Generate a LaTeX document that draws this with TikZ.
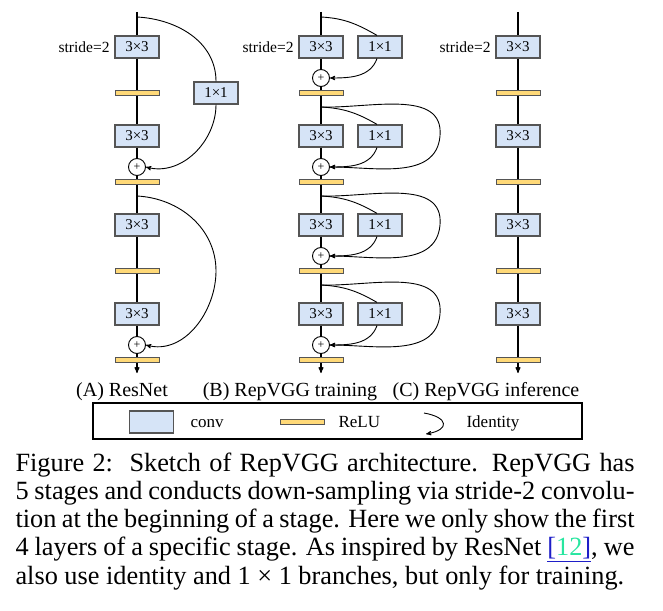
\documentclass[tikz,border=0pt]{standalone}
\usepackage{fontspec}
\setmainfont{Liberation Serif}
\usepackage{xcolor}
\usepackage{tikz}
\usetikzlibrary{arrows,shapes,positioning}
\definecolor{convfill}{RGB}{214,228,247}
\definecolor{convline}{RGB}{85,85,85}
\definecolor{relufill}{RGB}{255,217,120}
\definecolor{citegreen}{RGB}{40,230,160}
\definecolor{linkblue}{RGB}{30,30,200}
\tikzset{
  every picture/.style = {
    line width = 1.1pt,
    >=stealth',
    x = 1pt,
    y = -1pt,
    node distance = 46pt and 59pt,
    on grid,
  }
  ,
  conv/.style = {
    rectangle,
    draw = convline,
    fill = convfill,
    line width = 1.2pt,
    font = \fontsize{15}{15}\selectfont,
    inner sep = 0pt,
    minimum width = 44pt,
    minimum height = 22pt
  }
  , % relu bars
  relu/.style = {
    rectangle,
    draw = convline,
    fill = relufill,
    line width = 1pt,
    inner sep = 0pt,
    minimum width = 44pt,
    minimum height = 5pt
  }
  , % sums
  plus/.style = {
    circle,
    draw,
    fill = white,
    line width = 0.9pt,
    inner sep = 0pt,
    minimum size = 17pt,
    font = \fontsize{12}{12}\selectfont
  }
  , % branches
  branch/.style = {
    line width = 0.9pt
  }
  , % labels of the first convs
  label-stride/.style = {
    font = \fontsize{15.5}{15.5}\selectfont,
    label distance = 1pt
  }
  , % titles of the columns
  label-col/.style = {
    font = \fontsize{20}{20}\selectfont,
    anchor = base
  }
  , % texts of the legend
  label-key/.style = {
    font = \fontsize{17}{17}\selectfont,
    anchor = base west,
    inner sep = 0pt
  }
}
\begin{document}
\begin{tikzpicture}
    \useasboundingbox (0,0) rectangle (663,610);
    % (A) ResNet
    \coordinate (A-top) at (137,12);
    \node [conv, label = {[label-stride]left:stride=2}] (A-c1) at (137,47) {3×3};
    \node [relu, below = of A-c1] (A-r1) {};
    \node [conv, below = 43pt of A-r1] (A-c2) {3×3};
    \node [plus, below = 31pt of A-c2] (A-p1) {+};
    \node [relu, below = of A-c2] (A-r2) {};
    \node [conv, below = 43pt of A-r2] (A-c3) {3×3};
    \node [relu, below = of A-c3] (A-r3) {};
    \node [conv, below = 43pt of A-r3] (A-c4) {3×3};
    \node [plus, below = 31pt of A-c4] (A-p2) {+};
    \node [relu, below = of A-c4] (A-r4) {};
    \coordinate [below = 13pt of A-r4] (A-end);
    \draw (A-top) -- (A-c1) -- (A-r1) -- (A-c2) -- (A-p1) -- (A-r2) -- (A-c3)
        -- (A-r3) -- (A-c4) -- (A-p2) -- (A-r4);
    \draw [->] (A-r4) -- (A-end);
    \node [conv, right = 79pt of A-r1] (A-k1) {1×1};
    \coordinate [above = 30pt of A-c1] (A-s1);
    \coordinate [below = 14pt of A-r2] (A-s2);
    \coordinate [right = 79pt of A-r3] (A-m2);
    \draw [branch] (A-s1) to [out=-3, in=90] (A-k1.north);
    \draw [branch, ->] (A-k1.south) to [out=-90, in=-15] (A-p1.east);
    \draw [branch, ->] (A-s2) to [out=-3, in=90] (A-m2) to [out=-90, in=-15] (A-p2.east);

    % (B) RepVGG training
    \coordinate (B-top) at (321,12);
    \node [conv, label = {[label-stride]left:stride=2}] (B-c1) at (321,47) {3×3};
    \node [plus, below = 31pt of B-c1] (B-p1) {+};
    \node [relu, below = of B-c1] (B-r1) {};
    \node [conv, below = 43pt of B-r1] (B-c2) {3×3};
    \node [plus, below = 31pt of B-c2] (B-p2) {+};
    \node [relu, below = of B-c2] (B-r2) {};
    \node [conv, below = 43pt of B-r2] (B-c3) {3×3};
    \node [plus, below = 31pt of B-c3] (B-p3) {+};
    \node [relu, below = of B-c3] (B-r3) {};
    \node [conv, below = 43pt of B-r3] (B-c4) {3×3};
    \node [plus, below = 31pt of B-c4] (B-p4) {+};
    \node [relu, below = of B-c4] (B-r4) {};
    \coordinate [below = 13pt of B-r4] (B-end);
    \draw (B-top) -- (B-c1) -- (B-p1) -- (B-r1) -- (B-c2) -- (B-p2) -- (B-r2)
        -- (B-c3) -- (B-p3) -- (B-r3) -- (B-c4) -- (B-p4) -- (B-r4);
    \draw [->] (B-r4) -- (B-end);
    \node [conv, right = of B-c1] (B-k1) {1×1};
    \node [conv, right = of B-c2] (B-k2) {1×1};
    \node [conv, right = of B-c3] (B-k3) {1×1};
    \node [conv, right = of B-c4] (B-k4) {1×1};
    \coordinate [above = 30pt of B-c1] (B-s1);
    \coordinate [below = 14pt of B-r1] (B-s2);
    \coordinate [below = 14pt of B-r2] (B-s3);
    \coordinate [below = 14pt of B-r3] (B-s4);
    \coordinate [right = 119pt of B-c2] (B-m2);
    \coordinate [right = 119pt of B-c3] (B-m3);
    \coordinate [right = 119pt of B-c4] (B-m4);
    \draw [branch] (B-s1) to [out=-3, in=150] ([xshift=-3pt]B-k1.north);
    \draw [branch, ->] ([xshift=-3pt]B-k1.south) to [out=-110, in=0] (B-p1.east);
    \draw [branch] (B-s2) to [out=-3, in=150] ([xshift=-3pt]B-k2.north);
    \draw [branch, ->] ([xshift=-3pt]B-k2.south) to [out=-110, in=0] (B-p2.east);
    \draw [branch, ->] (B-s2) to [out=-2, in=85] (B-m2) to [out=-95, in=0] (B-p2.east);
    \draw [branch] (B-s3) to [out=-3, in=150] ([xshift=-3pt]B-k3.north);
    \draw [branch, ->] ([xshift=-3pt]B-k3.south) to [out=-110, in=0] (B-p3.east);
    \draw [branch, ->] (B-s3) to [out=-2, in=85] (B-m3) to [out=-95, in=0] (B-p3.east);
    \draw [branch] (B-s4) to [out=-3, in=150] ([xshift=-3pt]B-k4.north);
    \draw [branch, ->] ([xshift=-3pt]B-k4.south) to [out=-110, in=0] (B-p4.east);
    \draw [branch, ->] (B-s4) to [out=-2, in=85] (B-m4) to [out=-95, in=0] (B-p4.east);

    % (C) RepVGG inference
    \coordinate (C-top) at (518,12);
    \node [conv, label = {[label-stride]left:stride=2}] (C-c1) at (518,47) {3×3};
    \node [relu, below = of C-c1] (C-r1) {};
    \node [conv, below = 43pt of C-r1] (C-c2) {3×3};
    \node [relu, below = of C-c2] (C-r2) {};
    \node [conv, below = 43pt of C-r2] (C-c3) {3×3};
    \node [relu, below = of C-c3] (C-r3) {};
    \node [conv, below = 43pt of C-r3] (C-c4) {3×3};
    \node [relu, below = of C-c4] (C-r4) {};
    \coordinate [below = 13pt of C-r4] (C-end);
    \draw (C-top) -- (C-c1) -- (C-r1) -- (C-c2) -- (C-r2) -- (C-c3) -- (C-r3)
        -- (C-c4) -- (C-r4);
    \draw [->] (C-r4) -- (C-end);

    % titles
    \node [label-col] (A-name) at (122,396) {(A) ResNet};
    \node [label-col] (B-name) at (290,396) {(B) RepVGG training};
    \node [label-col] (C-name) at (486,396) {(C) RepVGG inference};

    % legend
    \node [draw, line width = 2.4pt, minimum width = 489pt, minimum height = 36pt] (key) at (337.5,421) {};
    \node [conv] (key-conv) at (151.5,422) {};
    \node [label-key] (key-conv-txt) at (190,427) {conv};
    \node [relu] (key-relu) at (302,421.5) {};
    \node [label-key] (key-relu-txt) at (338,427) {ReLU};
    \coordinate (key-id-a) at (424,413);
    \coordinate (key-id-b) at (426,434);
    \draw [branch, ->] (key-id-a) to [out=-10, in=10, looseness=3] (key-id-b);
    \node [label-key] (key-id-txt) at (466,427) {Identity};

    % caption
    \node [anchor = base west, text width = 619pt, align = justify, inner sep = 0pt,
        font = \fontsize{26.3}{28.3}\selectfont] (caption) at (15,471)
        {Figure 2:\ \ Sketch of RepVGG architecture.  RepVGG has\linebreak
        5 stages and conducts down-sampling via stride-2 convolu-\linebreak
        tion at the beginning of a stage. Here we only show the first\linebreak
        4 layers of a specific stage. As inspired by ResNet
        \textcolor{linkblue}{\underline{[\textcolor{citegreen}{12}]}}, we\linebreak
        also use identity and 1 × 1 branches, but only for training.};
\end{tikzpicture}
\end{document}
